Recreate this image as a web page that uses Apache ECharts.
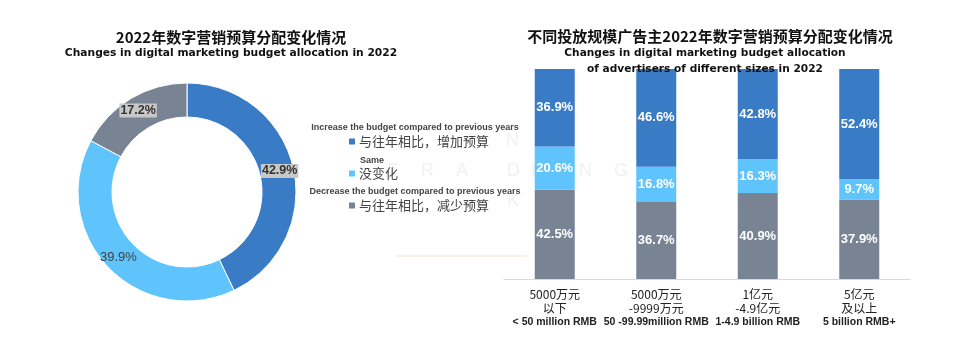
<!DOCTYPE html>
<html><head><meta charset="utf-8">
<script src="https://cdn.jsdelivr.net/npm/echarts@6/dist/echarts.min.js"></script>
<style>html,body{margin:0;padding:0;background:#fff}#c{width:960px;height:340px}</style>
</head><body><div id="c"></div>
<script>
const pieNames = ['与往年相比，增加预算', '没变化', '与往年相比，减少预算'];
const pieNamesEn = ['Increase the budget compared to previous years', 'Same', 'Decrease the budget compared to previous years'];
const pieValues = [42.9, 39.9, 17.2];
const categoriesCn1 = ['5000万元', '5000万元', '1亿元', '5亿元'];
const categoriesCn2 = ['以下', '-9999万元', '-4.9亿元', '及以上'];
const categoriesEn = ['< 50 million RMB', '50 -99.99million RMB', '1-4.9 billion RMB', '5 billion RMB+'];
const decreaseVals = [42.5, 36.7, 40.9, 37.9];
const sameVals = [20.6, 16.8, 16.3, 9.7];
const increaseVals = [36.9, 46.6, 42.8, 52.4];

const C_INC = '#3a7bc6', C_SAME = '#5fc4fc', C_DEC = '#788494';
const CJK = '"Noto Sans CJK SC", "Noto Sans", sans-serif';
const ARIAL = '"Liberation Sans", Arial, sans-serif';
const DV = '"DejaVu Sans", sans-serif';

const categories = categoriesCn1.map((c, i) => c + '\n' + categoriesCn2[i] + '\n' + categoriesEn[i]);

const boxLabel = {show: true, position: 'inside', formatter: '{c}%', color: '#333', fontWeight: 'bold', fontSize: 12.5, fontFamily: ARIAL, backgroundColor: '#c8c8c8', padding: [1, 1, 0, 1]};
const plainLabel = {show: true, position: 'inside', formatter: '{c}%', color: '#404040', fontWeight: 'normal', fontSize: 13, fontFamily: ARIAL};
const pieColors = [C_INC, C_SAME, C_DEC];
const pieLabels = [boxLabel, plainLabel, boxLabel];

const barLabel = {show: true, position: 'inside', formatter: '{c}%', color: '#fff', fontWeight: 'bold', fontSize: 13, fontFamily: ARIAL};

const wm = [['N', 512, 142], ['A', 563, 142], ['T', 394, 172], ['R', 427, 172], ['A', 462, 172], ['D', 513, 172], ['I', 537, 172], ['N', 585, 172], ['G', 620, 172], ['K', 513, 202]];
const enFont = 'bold 9px "Liberation Sans", Arial, sans-serif';

const chart = echarts.init(document.getElementById('c'), null, {renderer: 'canvas'});
chart.setOption({
  animation: false,
  title: [
    {text: '2022年数字营销预算分配变化情况', left: 231, top: 30, textAlign: 'center', padding: 0,
     textStyle: {fontFamily: CJK, fontWeight: 'bold', fontSize: 15, color: '#111'}},
    {text: 'Changes in digital marketing budget allocation in 2022', left: 231, top: 48, textAlign: 'center', padding: 0,
     textStyle: {fontFamily: DV, fontWeight: 'bold', fontSize: 10.7, color: '#111'}},
    {text: '不同投放规模广告主2022年数字营销预算分配变化情况', left: 710, top: 29, textAlign: 'center', padding: 0,
     textStyle: {fontFamily: CJK, fontWeight: 'bold', fontSize: 15, color: '#111'}},
    {text: 'Changes in digital marketing budget allocation\nof advertisers of different sizes in 2022', left: 705, top: 45, textAlign: 'center', padding: 0,
     textStyle: {fontFamily: DV, fontWeight: 'bold', fontSize: 10.6, color: '#111', lineHeight: 16}}
  ],
  graphic: [
    ...wm.map(w => ({type: 'text', z: -10, left: w[1] - 6, top: w[2] - 10,
      style: {text: w[0], fill: '#f1f1f1', font: '18px "Liberation Sans", Arial, sans-serif'}})),
    {type: 'rect', z: -10, shape: {x: 397, y: 255, width: 130, height: 2}, style: {fill: '#f6f1e7'}},
    {type: 'text', x: 415, y: 128, style: {text: pieNamesEn[0], fill: '#444', font: enFont, align: 'center', verticalAlign: 'middle'}},
    {type: 'text', x: 360, y: 161, style: {text: pieNamesEn[1], fill: '#444', font: enFont, align: 'left', verticalAlign: 'middle'}},
    {type: 'text', x: 415, y: 192, style: {text: pieNamesEn[2], fill: '#444', font: enFont, align: 'center', verticalAlign: 'middle'}}
  ],
  legend: {
    data: pieNames, orient: 'vertical', left: 349, top: 135, padding: 0, itemWidth: 6, itemHeight: 6, itemGap: 19,
    icon: 'rect', textStyle: {fontFamily: CJK, fontSize: 13, color: '#444', lineHeight: 13, padding: [0, 0, 0, -1]}
  },
  grid: {left: 504, right: 50, top: 69, bottom: 61},
  xAxis: {
    type: 'category', data: categories,
    axisLine: {lineStyle: {color: '#d9d9d9'}}, axisTick: {show: false},
    axisLabel: {interval: 0, color: '#222', fontFamily: CJK, fontSize: 12, lineHeight: 13.5, margin: 9,
      formatter: (v) => { const p = v.split('\n'); return p[0] + '\n' + p[1] + '\n{en|' + p[2] + '}'; },
      rich: {en: {fontFamily: ARIAL, fontWeight: 'bold', fontSize: 10.5, color: '#222', lineHeight: 13.5}}}
  },
  yAxis: {type: 'value', min: 0, max: 100, show: false},
  series: [
    {type: 'pie', name: 'pie', center: [187, 192], radius: [75, 109], startAngle: 90, clockwise: true,
     legendHoverLink: false, avoidLabelOverlap: false,
     itemStyle: {borderColor: '#fff', borderWidth: 1},
     labelLine: {show: false},
     data: pieValues.map((v, i) => ({name: pieNames[i], value: v, itemStyle: {color: pieColors[i]}, label: pieLabels[i]}))},
    {type: 'bar', name: pieNames[2], stack: 's', barWidth: 40, data: decreaseVals, itemStyle: {color: C_DEC}, label: barLabel},
    {type: 'bar', name: pieNames[1], stack: 's', barWidth: 40, data: sameVals, itemStyle: {color: C_SAME}, label: barLabel},
    {type: 'bar', name: pieNames[0], stack: 's', barWidth: 40, data: increaseVals, itemStyle: {color: C_INC}, label: barLabel}
  ]
});
</script></body></html>
